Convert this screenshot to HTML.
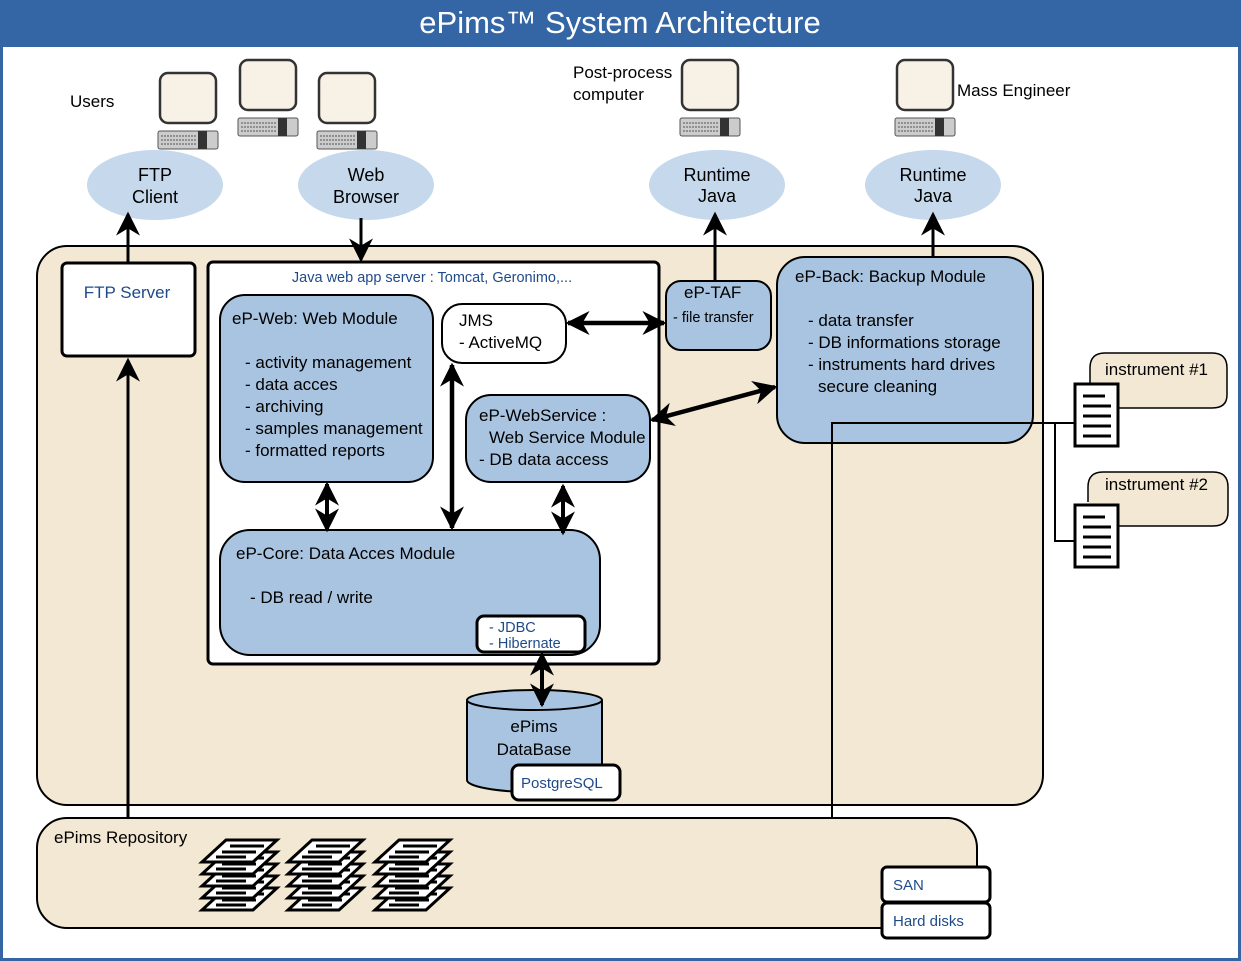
<!DOCTYPE html>
<html><head><meta charset="utf-8"><style>
html,body{margin:0;padding:0;background:#fff}
svg{display:block;font-family:"Liberation Sans",sans-serif}
</style></head><body>
<svg width="1241" height="961" viewBox="0 0 1241 961" xmlns="http://www.w3.org/2000/svg">
<defs>
<marker id="a" viewBox="0 0 10 10" refX="9" refY="5" markerWidth="24" markerHeight="24" markerUnits="userSpaceOnUse" orient="auto-start-reverse"><path d="M0,0 L10,5 L0,10 L3,5 z" fill="#000"/></marker>
<g id="pc"><rect x="2" y="0" width="56" height="50" rx="8" fill="#f7f1e6" stroke="#333" stroke-width="2.5"/><rect x="0" y="58" width="60" height="18" rx="2" fill="#ccc" stroke="#555"/><rect x="40" y="58" width="9" height="18" fill="#333"/><path d="M3,63h35M3,67h35M3,71h35" stroke="#555" stroke-dasharray="2 1"/></g>
<g id="doc"><rect x="0" y="0" width="43" height="62" fill="#fff" stroke="#000" stroke-width="3"/><path d="M8,12h22M8,22h28M8,32h28M8,42h28M8,52h28" stroke="#000" stroke-width="3"/></g>
<g id="pg"><path d="M24,0 L75,0 L51,22 L0,22 z" fill="#fff" stroke="#000" stroke-width="3"/><path d="M28,6h34M20,12h34M14,17h30" stroke="#000" stroke-width="3"/></g>
<g id="st"><use href="#pg" y="48"/><use href="#pg" y="36"/><use href="#pg" y="24"/><use href="#pg" y="12"/><use href="#pg" y="0"/></g>
</defs>
<rect x="1.5" y="1.5" width="1238" height="958" fill="#fff" stroke="#3465a4" stroke-width="3"/>
<rect x="0" y="0" width="1241" height="47" fill="#3465a4"/>
<text x="620" y="33" font-size="31" fill="#fff" text-anchor="middle">ePims™ System Architecture</text>

<text x="70" y="107" font-size="17">Users</text>
<use href="#pc" x="158" y="73"/><use href="#pc" x="238" y="60"/><use href="#pc" x="317" y="73"/>
<text x="573" y="78" font-size="17">Post-process</text><text x="573" y="100" font-size="17">computer</text>
<use href="#pc" x="680" y="60"/>
<use href="#pc" x="895" y="60"/>
<text x="957" y="96" font-size="17">Mass Engineer</text>

<g fill="#c5d8ec"><ellipse cx="155" cy="185" rx="68" ry="35"/><ellipse cx="366" cy="185" rx="68" ry="35"/><ellipse cx="717" cy="185" rx="68" ry="35"/><ellipse cx="933" cy="185" rx="68" ry="35"/></g>
<g font-size="18" text-anchor="middle"><text x="155" y="181">FTP</text><text x="155" y="203">Client</text><text x="366" y="181">Web</text><text x="366" y="203">Browser</text><text x="717" y="181">Runtime</text><text x="717" y="202">Java</text><text x="933" y="181">Runtime</text><text x="933" y="202">Java</text></g>

<rect x="37" y="246" width="1006" height="559" rx="30" fill="#f3e8d3" stroke="#000" stroke-width="2"/>
<rect x="37" y="818" width="940" height="110" rx="30" fill="#f3e8d3" stroke="#000" stroke-width="2"/>
<text x="54" y="843" font-size="17">ePims Repository</text>
<use href="#st" x="202" y="840"/><use href="#st" x="288" y="840"/><use href="#st" x="375" y="840"/>
<rect x="882" y="867" width="108" height="35" rx="5" fill="#fff" stroke="#000" stroke-width="3"/>
<rect x="882" y="903" width="108" height="35" rx="5" fill="#fff" stroke="#000" stroke-width="3"/>
<text x="893" y="890" font-size="15" fill="#1f4a8a">SAN</text><text x="893" y="926" font-size="15" fill="#1f4a8a">Hard disks</text>

<rect x="62" y="263" width="133" height="93" rx="5" fill="#fff" stroke="#000" stroke-width="3"/>
<text x="127" y="298" font-size="17" fill="#1f4a8a" text-anchor="middle">FTP Server</text>

<rect x="208" y="262" width="451" height="402" rx="5" fill="#fff" stroke="#000" stroke-width="3"/>
<text x="432" y="282" font-size="14.5" fill="#1f4a8a" text-anchor="middle">Java web app server : Tomcat, Geronimo,...</text>

<rect x="220" y="295" width="213" height="187" rx="25" fill="#a8c4e0" stroke="#000" stroke-width="2"/>
<g font-size="17"><text x="232" y="324">eP-Web: Web Module</text><text x="245" y="368">- activity management</text><text x="245" y="390">- data acces</text><text x="245" y="412">- archiving</text><text x="245" y="434">- samples management</text><text x="245" y="456">- formatted reports</text></g>

<rect x="442" y="304" width="124" height="59" rx="20" fill="#fff" stroke="#000" stroke-width="2"/>
<text x="459" y="326" font-size="17">JMS</text><text x="459" y="348" font-size="17">- ActiveMQ</text>

<rect x="466" y="395" width="184" height="87" rx="25" fill="#a8c4e0" stroke="#000" stroke-width="2"/>
<g font-size="17"><text x="479" y="421">eP-WebService :</text><text x="489" y="443">Web Service Module</text><text x="479" y="465">- DB data access</text></g>

<rect x="220" y="530" width="380" height="125" rx="30" fill="#a8c4e0" stroke="#000" stroke-width="2"/>
<text x="236" y="559" font-size="17">eP-Core: Data Acces Module</text><text x="250" y="603" font-size="17">- DB read / write</text>
<rect x="477" y="616" width="108" height="36" rx="7" fill="#fff" stroke="#000" stroke-width="3"/>
<text x="489" y="632" font-size="14.5" fill="#1f4a8a">- JDBC</text><text x="489" y="648" font-size="14.5" fill="#1f4a8a">- Hibernate</text>

<path d="M467,700 L467,780 A67,12 0 0 0 602,780 L602,700" fill="#a8c4e0" stroke="#000" stroke-width="2"/>
<ellipse cx="534.5" cy="700" rx="67.5" ry="10" fill="#a8c4e0" stroke="#000" stroke-width="2"/>
<text x="534" y="732" font-size="17" text-anchor="middle">ePims</text><text x="534" y="755" font-size="17" text-anchor="middle">DataBase</text>
<rect x="512" y="765" width="108" height="35" rx="7" fill="#fff" stroke="#000" stroke-width="3"/>
<text x="521" y="788" font-size="15" fill="#1f4a8a">PostgreSQL</text>

<rect x="666" y="281" width="105" height="69" rx="15" fill="#a8c4e0" stroke="#000" stroke-width="2"/>
<text x="684" y="298" font-size="17">eP-TAF</text><text x="673" y="322" font-size="14.5">-  file transfer</text>

<rect x="777" y="257" width="256" height="186" rx="28" fill="#a8c4e0" stroke="#000" stroke-width="2"/>
<g font-size="17"><text x="795" y="282">eP-Back: Backup Module</text><text x="808" y="326">- data transfer</text><text x="808" y="348">- DB informations storage</text><text x="808" y="370">- instruments hard drives</text><text x="818" y="392">secure cleaning</text></g>

<path d="M1090,383 L1090,368 Q1090,353 1105,353 L1212,353 Q1227,353 1227,368 L1227,395 Q1227,408 1212,408 L1118,408" fill="#f3e8d3" stroke="#000" stroke-width="1.5"/>
<path d="M1088,502 L1088,487 Q1088,472 1103,472 L1213,472 Q1228,472 1228,487 L1228,512 Q1228,526 1213,526 L1118,526" fill="#f3e8d3" stroke="#000" stroke-width="1.5"/>
<text x="1105" y="375" font-size="17">instrument #1</text><text x="1105" y="490" font-size="17">instrument #2</text>
<path d="M832,818 L832,423 L1075,423 M1055,423 L1055,541 L1075,541" fill="none" stroke="#000" stroke-width="2"/>
<use href="#doc" x="1075" y="384"/><use href="#doc" x="1075" y="505"/>

<g stroke="#000" stroke-width="3" fill="none">
<path d="M128,262 L128,214" marker-end="url(#a)"/>
<path d="M128,818 L128,360" marker-end="url(#a)"/>
<path d="M361,218 L361,260" marker-end="url(#a)"/>
<path d="M715,281 L715,214" marker-end="url(#a)"/>
<path d="M933,257 L933,214" marker-end="url(#a)"/>
<path d="M568,323 L664,323" stroke-width="4.5" marker-start="url(#a)" marker-end="url(#a)"/>
<path d="M652,420 L775,387" stroke-width="4.5" marker-start="url(#a)" marker-end="url(#a)"/>
<path d="M452,365 L452,528" stroke-width="4.5" marker-start="url(#a)" marker-end="url(#a)"/>
<path d="M327,484 L327,530" stroke-width="4" marker-start="url(#a)" marker-end="url(#a)"/>
<path d="M563,486 L563,533" stroke-width="4" marker-start="url(#a)" marker-end="url(#a)"/>
<path d="M542,654 L542,705" stroke-width="4" marker-start="url(#a)" marker-end="url(#a)"/>
</g>
</svg>
</body></html>
